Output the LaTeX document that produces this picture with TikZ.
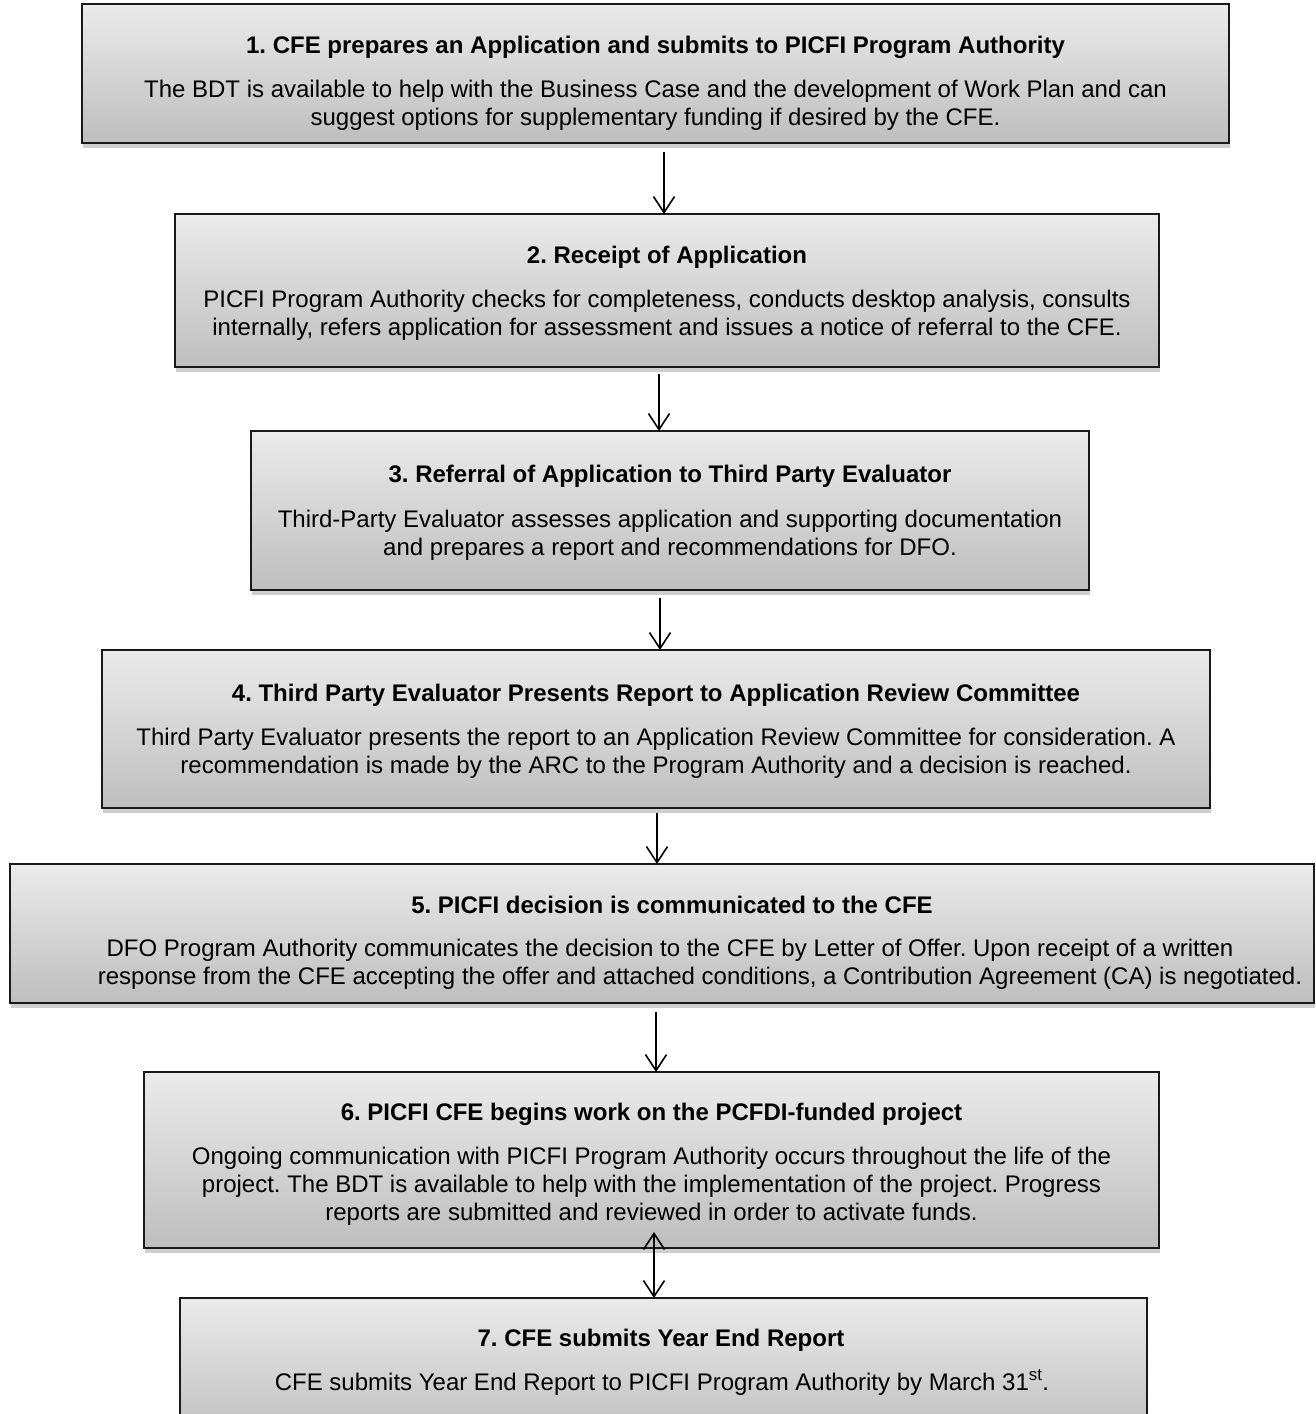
\documentclass[tikz,border=0pt]{standalone}
\usepackage{fontspec}
\setmainfont{Liberation Sans}
\usetikzlibrary{arrows.meta,calc}
\definecolor{edgec}{HTML}{1A1A1A}
\definecolor{shadowc}{HTML}{CFCFCF}
\definecolor{topc}{HTML}{EBEBEB}
\definecolor{botc}{HTML}{BEBEBE}
\frenchspacing
\begin{document}
\begin{tikzpicture}[x=1pt,y=-1pt,
  stepbox/.style={draw=edgec, line width=2.5pt, rectangle, inner sep=0pt, outer sep=0pt,
    top color=topc, bottom color=botc,
    preaction={fill=shadowc, draw=none, transform canvas={xshift=1pt,yshift=-5pt}}},
  titletext/.style={font=\fontsize{24}{28}\selectfont\bfseries, anchor=base, inner sep=0pt, align=center},
  bodytext/.style={font=\fontsize{24}{28}\selectfont, anchor=base, inner sep=0pt, align=center},
  arr/.style={line width=1.6pt, -{Straight Barb[length=16pt,width=21pt,line width=1.6pt]}},
  dblarr/.style={line width=1.6pt, {Straight Barb[length=16pt,width=21pt,line width=1.6pt]}-{Straight Barb[length=16pt,width=21pt,line width=1.6pt]}}
]
\useasboundingbox (0,0) rectangle (1315,1414);

% boxes
\node[stepbox, minimum width=1147pt, minimum height=139pt] (b1) at (655.5,73.5) {};
\node[stepbox, minimum width=984pt, minimum height=153pt] (b2) at (667,290.5) {};
\node[stepbox, minimum width=838pt, minimum height=159pt] (b3) at (670,510.5) {};
\node[stepbox, minimum width=1108pt, minimum height=158pt] (b4) at (656,729) {};
\node[stepbox, minimum width=1304pt, minimum height=139pt] (b5) at (662,933.5) {};
\node[stepbox, minimum width=1015pt, minimum height=176pt] (b6) at (651.5,1160) {};
\node[stepbox, minimum width=967pt, minimum height=142pt] (b7) at (663.5,1369) {};

% texts (base anchor of a multi-line node = baseline of its last line)
\node[titletext] (t1) at (655.5,53) {1. CFE prepares an Application and submits to PICFI Program Authority};
\node[bodytext] (d1) at (655.5,125) {The BDT is available to help with the Business Case and the development of Work Plan and can\\suggest options for supplementary funding if desired by the CFE.};

\node[titletext] (t2) at (667,263) {2. Receipt of Application};
\node[bodytext] (d2) at (667,335) {PICFI Program Authority checks for completeness, conducts desktop analysis, consults\\internally, refers application for assessment and issues a notice of referral to the CFE.};

\node[titletext] (t3) at (670,482) {3. Referral of Application to Third Party Evaluator};
\node[bodytext] (d3) at (670,555) {Third-Party Evaluator assesses application and supporting documentation\\and prepares a report and recommendations for DFO.};

\node[titletext] (t4) at (656,701) {4. Third Party Evaluator Presents Report to Application Review Committee};
\node[bodytext] (d4) at (656,773) {Third Party Evaluator presents the report to an Application Review Committee for consideration. A\\recommendation is made by the ARC to the Program Authority and a decision is reached.};

\node[titletext] (t5) at (672,913) {5. PICFI decision is communicated to the CFE};
\node[bodytext] (d5) at (700,984) {\hspace*{-60pt}DFO Program Authority communicates the decision to the CFE by Letter of Offer. Upon receipt of a written\\response from the CFE accepting the offer and attached conditions, a Contribution Agreement (CA) is negotiated.};

\node[titletext] (t6) at (651.5,1120) {6. PICFI CFE begins work on the PCFDI-funded project};
\node[bodytext] (d6) at (651.5,1220) {Ongoing communication with PICFI Program Authority occurs throughout the life of the\\project. The BDT is available to help with the implementation of the project. Progress\\reports are submitted and reviewed in order to activate funds.};

\node[titletext] (t7) at (661,1346) {7. CFE submits Year End Report};
\node[bodytext] (d7) at (662,1390) {CFE submits Year End Report to PICFI Program Authority by March 31\textsuperscript{st}.};

% connectors
\draw[arr] ($(b1.south)+(8.5,9)$) coordinate (a1) -- (a1 |- b2.north);
\draw[arr] ($(b2.south)+(-8,7)$) coordinate (a2) -- (a2 |- b3.north);
\draw[arr] ($(b3.south)+(-10,8)$) coordinate (a3) -- (a3 |- b4.north);
\draw[arr] ($(b4.south)+(1,5)$) coordinate (a4) -- (a4 |- b5.north);
\draw[arr] ($(b5.south)+(-6,9)$) coordinate (a5) -- (a5 |- b6.north);
\draw[dblarr] ($(b6.south)+(2.5,-16)$) coordinate (a6) -- (a6 |- b7.north);
\end{tikzpicture}
\end{document}
